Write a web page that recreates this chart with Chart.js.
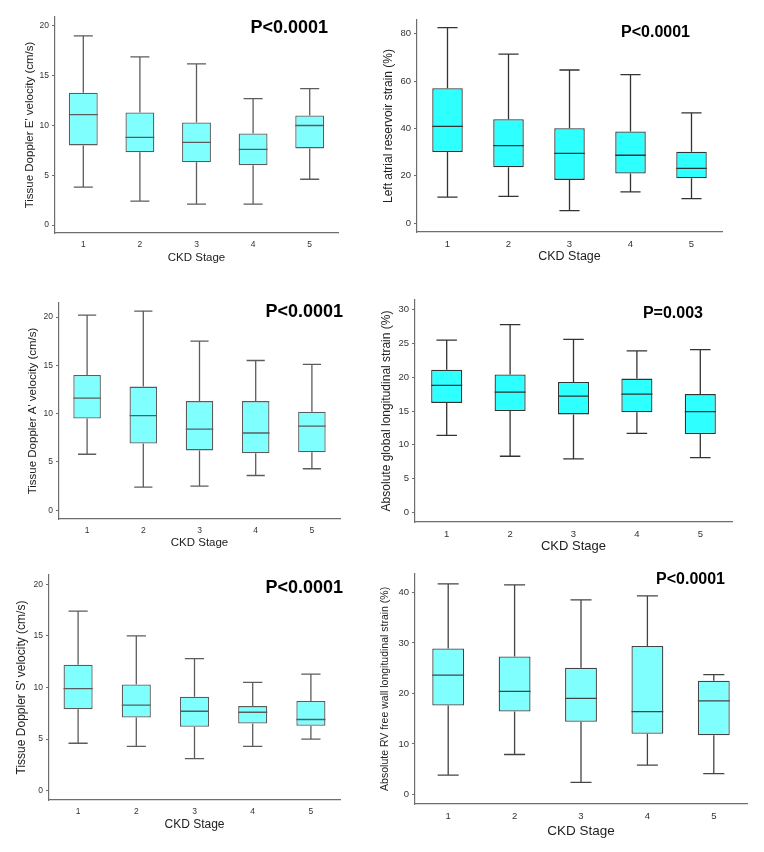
<!DOCTYPE html>
<html>
<head>
<meta charset="utf-8">
<script src="https://cdn.jsdelivr.net/npm/chart.js@4.4.0/dist/chart.umd.min.js"></script>
<style>
  body { margin: 0; background: #fff; width: 764px; height: 852px; position: relative; overflow: hidden; }
  canvas { position: absolute; }
</style>
</head>
<body>
<canvas id="c1"></canvas>
<canvas id="c2"></canvas>
<canvas id="c3"></canvas>
<canvas id="c4"></canvas>
<canvas id="c5"></canvas>
<canvas id="c6"></canvas>
<script>
// --- Data ---
const stages = ["1", "2", "3", "4", "5"];

// Tissue Doppler E' velocity (cm/s)
const eMin = [3.8, 2.4, 2.1, 2.1, 4.6];
const eQ1 = [8.0, 7.3, 6.3, 6.0, 7.7];
const eMed = [11.1, 8.8, 8.3, 7.6, 10.0];
const eQ3 = [13.3, 11.3, 10.3, 9.2, 11.0];
const eMax = [19.0, 16.9, 16.2, 12.7, 13.7];

// Left atrial reservoir strain (%)
const laMin = [11.0, 11.3, 5.3, 13.2, 10.4];
const laQ1 = [30.1, 23.6, 18.3, 21.0, 19.0];
const laMed = [40.9, 32.8, 29.5, 28.7, 23.2];
const laQ3 = [57.0, 43.9, 40.1, 38.7, 30.2];
const laMax = [82.6, 71.4, 64.7, 62.7, 46.6];

// Tissue Doppler A' velocity (cm/s)
const aMin = [5.8, 2.4, 2.5, 3.6, 4.3];
const aQ1 = [9.5, 6.9, 6.2, 5.9, 6.0];
const aMed = [11.6, 9.8, 8.4, 8.0, 8.7];
const aQ3 = [14.0, 12.8, 11.3, 11.3, 10.2];
const aMax = [20.2, 20.6, 17.5, 15.5, 15.1];

// Absolute global longitudinal strain (%)
const glsMin = [11.4, 8.3, 7.9, 11.7, 8.1];
const glsQ1 = [16.2, 15.0, 14.5, 14.8, 11.6];
const glsMed = [18.8, 17.8, 17.2, 17.5, 14.9];
const glsQ3 = [21.1, 20.4, 19.3, 19.8, 17.5];
const glsMax = [25.5, 27.8, 25.6, 23.9, 24.1];

// Tissue Doppler S' velocity (cm/s)
const sMin = [4.6, 4.3, 3.1, 4.3, 5.0];
const sQ1 = [7.9, 7.1, 6.2, 6.5, 6.3];
const sMed = [9.9, 8.3, 7.7, 7.6, 6.9];
const sQ3 = [12.2, 10.3, 9.1, 8.2, 8.7];
const sMax = [17.4, 15.0, 12.8, 10.5, 11.3];

// Absolute RV free wall longitudinal strain (%)
const rvMin = [3.8, 7.9, 2.4, 5.8, 4.1];
const rvQ1 = [17.6, 16.4, 14.4, 12.0, 11.7];
const rvMed = [23.6, 20.4, 19.0, 16.4, 18.5];
const rvQ3 = [28.9, 27.3, 25.1, 29.4, 22.5];
const rvMax = [41.7, 41.5, 38.5, 39.3, 23.7];

const FONT = "'Liberation Sans', Arial, Helvetica, sans-serif";

// --- Panels: stats + layout ---
const panels = [
  { id: "c1", stats: [eMin, eQ1, eMed, eQ3, eMax], yTitle: "Tissue Doppler E' velocity (cm/s)", p: "P<0.0001",
    left: 19, top: 0, w: 326, h: 269, padTop: 17, padRight: 7, yW: 36, xH: 36,
    min: -0.8, max: 20.9, step: 5, pRight: 328, pY: 28, pSize: 18,
    yTitleSize: 11.5, xTitleSize: 11.5, tickSize: 8.5, fill: "#80ffff", line: "#5c5c5c", bw: 0.51 },
  { id: "c2", stats: [laMin, laQ1, laMed, laQ3, laMax], yTitle: "Left atrial reservoir strain (%)", p: "P<0.0001",
    left: 377, top: 0, w: 351, h: 268, padTop: 20, padRight: 6, yW: 40, xH: 36,
    min: -3.7, max: 85.8, step: 20, pRight: 690, pY: 33, pSize: 16,
    yTitleSize: 12, xTitleSize: 12.5, tickSize: 9.5, fill: "#2effff", line: "#333333", bw: 0.5 },
  { id: "c3", stats: [aMin, aQ1, aMed, aQ3, aMax], yTitle: "Tissue Doppler A' velocity (cm/s)", p: "P<0.0001",
    left: 22, top: 285, w: 324, h: 269, padTop: 18, padRight: 6, yW: 37, xH: 35,
    min: -0.9, max: 21.45, step: 5, pRight: 343, pY: 312, pSize: 18,
    yTitleSize: 11.5, xTitleSize: 11.5, tickSize: 8.5, fill: "#80ffff", line: "#5c5c5c", bw: 0.49 },
  { id: "c4", stats: [glsMin, glsQ1, glsMed, glsQ3, glsMax], yTitle: "Absolute global longitudinal strain (%)", p: "P=0.003",
    left: 375, top: 285, w: 363, h: 273, padTop: 15, padRight: 6, yW: 40, xH: 36,
    min: -1.44, max: 31.44, step: 5, pRight: 703, pY: 314, pSize: 16,
    yTitleSize: 12, xTitleSize: 13, tickSize: 9.5, fill: "#2effff", line: "#333333", bw: 0.49 },
  { id: "c5", stats: [sMin, sQ1, sMed, sQ3, sMax], yTitle: "Tissue Doppler S' velocity (cm/s)", p: "P<0.0001",
    left: 10, top: 565, w: 336, h: 271, padTop: 10, padRight: 6, yW: 39, xH: 36,
    min: -0.9, max: 20.9, step: 5, pRight: 343, pY: 588, pSize: 18,
    yTitleSize: 12, xTitleSize: 12, tickSize: 8.5, fill: "#80ffff", line: "#5c5c5c", bw: 0.5 },
  { id: "c6", stats: [rvMin, rvQ1, rvMed, rvQ3, rvMax], yTitle: "Absolute RV free wall longitudinal strain (%)", p: "P<0.0001",
    left: 375, top: 565, w: 378, h: 278, padTop: 7, padRight: 6, yW: 40, xH: 39,
    min: -1.9, max: 43.7, step: 10, pRight: 725, pY: 580, pSize: 16,
    yTitleSize: 10.5, xTitleSize: 13.5, tickSize: 9.5, fill: "#80ffff", line: "#444444", bw: 0.48 },
];

// whiskers, caps, median and the p-value label
function boxPlugin(cfg) {
  const [lo, q1, med, q3, hi] = cfg.stats;
  return {
    id: "box_" + cfg.id,
    afterDatasetsDraw(chart) {
      const { ctx, scales: { x, y } } = chart;
      const meta = chart.getDatasetMeta(0);
      ctx.save();
      ctx.strokeStyle = cfg.line;
      ctx.lineWidth = 1.3;
      meta.data.forEach((bar, i) => {
        const cx = x.getPixelForValue(i);
        const half = bar.width / 2;
        const cap = bar.width * 0.33;
        const yHi = y.getPixelForValue(hi[i]);
        const yLo = y.getPixelForValue(lo[i]);
        const yQ1 = y.getPixelForValue(q1[i]);
        const yQ3 = y.getPixelForValue(q3[i]);
        const yMed = y.getPixelForValue(med[i]);
        ctx.beginPath();
        ctx.moveTo(cx, yQ3); ctx.lineTo(cx, yHi);
        ctx.moveTo(cx - cap, yHi); ctx.lineTo(cx + cap, yHi);
        ctx.moveTo(cx, yQ1); ctx.lineTo(cx, yLo);
        ctx.moveTo(cx - cap, yLo); ctx.lineTo(cx + cap, yLo);
        ctx.moveTo(cx - half, yMed); ctx.lineTo(cx + half, yMed);
        ctx.stroke();
      });
      ctx.fillStyle = "#000";
      ctx.font = "bold " + cfg.pSize + "px " + FONT;
      ctx.textAlign = "right";
      ctx.textBaseline = "middle";
      ctx.fillText(cfg.p, cfg.pRight - cfg.left, cfg.pY - cfg.top);
      ctx.restore();
    },
  };
}

panels.forEach((cfg) => {
  const canvas = document.getElementById(cfg.id);
  canvas.width = cfg.w;
  canvas.height = cfg.h;
  canvas.style.left = cfg.left + "px";
  canvas.style.top = cfg.top + "px";
  const [lo, q1, med, q3, hi] = cfg.stats;

  new Chart(canvas, {
    type: "bar",
    data: {
      labels: stages,
      datasets: [{
        data: stages.map((_, i) => [q1[i], q3[i]]),
        backgroundColor: cfg.fill,
        borderColor: cfg.line,
        borderWidth: 1.3,
        borderSkipped: false,
        barPercentage: cfg.bw,
        categoryPercentage: 1,
      }],
    },
    options: {
      responsive: false,
      animation: false,
      events: [],
      layout: { padding: { top: cfg.padTop, right: cfg.padRight, left: 0, bottom: 0 } },
      plugins: { legend: { display: false }, tooltip: { enabled: false } },
      scales: {
        x: {
          offset: true,
          grid: { display: false, drawTicks: false },
          border: { display: true, color: "#6e6e6e", width: 1.2 },
          ticks: { font: { family: FONT, size: cfg.tickSize }, color: "#333", padding: 7 },
          title: { display: true, text: "CKD Stage", color: "#222",
                   font: { family: FONT, size: cfg.xTitleSize }, padding: { top: 0, bottom: 4 } },
          afterFit: (s) => { s.height = cfg.xH; },
        },
        y: {
          min: cfg.min,
          max: cfg.max,
          grid: { drawOnChartArea: false, drawTicks: true, tickLength: 3, color: "#6e6e6e" },
          border: { display: true, color: "#6e6e6e", width: 1.2 },
          ticks: { stepSize: cfg.step, includeBounds: false, padding: 3,
                   font: { family: FONT, size: cfg.tickSize }, color: "#333" },
          title: { display: true, text: cfg.yTitle, color: "#222",
                   font: { family: FONT, size: cfg.yTitleSize }, padding: { top: 4, bottom: 0 } },
          afterFit: (s) => { s.width = cfg.yW; },
        },
      },
    },
    plugins: [boxPlugin(cfg)],
  });
});
</script>
</body>
</html>
